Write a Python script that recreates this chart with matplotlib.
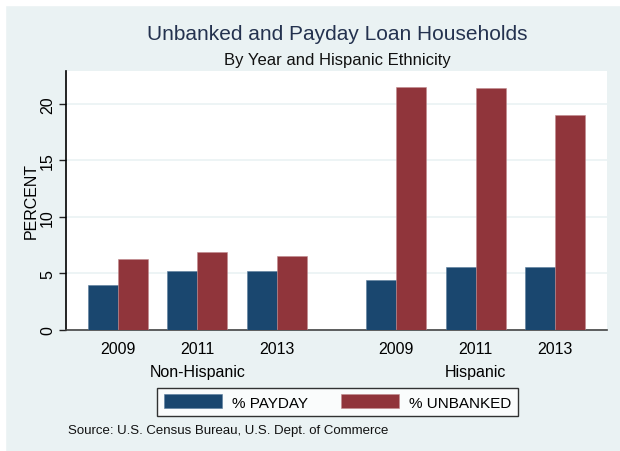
import matplotlib.pyplot as plt
from matplotlib.patches import Patch, Rectangle
from matplotlib.transforms import blended_transform_factory

plt.rcParams['font.family'] = ['Liberation Sans', 'DejaVu Sans']

# data
years = ['2009', '2011', '2013']
groups = ['Non-Hispanic', 'Hispanic']
payday_nonhisp = [4.0, 5.2, 5.2]
unbanked_nonhisp = [6.3, 6.9, 6.5]
payday_hisp = [4.4, 5.55, 5.55]
unbanked_hisp = [21.5, 21.4, 19.0]

bg = '#EAF2F3'
blue = '#1A476F'
red = '#90353B'

fig = plt.figure(figsize=(6.2, 4.52), dpi=100, facecolor=bg)
# white strips at top and left like the original screenshot
fig.patches.append(Rectangle((0, 1 - 6 / 452), 1, 6 / 452, transform=fig.transFigure,
                             color='white', zorder=0))
fig.patches.append(Rectangle((0, 0), 5 / 620, 1, transform=fig.transFigure,
                             color='white', zorder=0))

ax = fig.add_axes([66 / 620, (452 - 331) / 452, (607 - 66) / 620, (331 - 72) / 452])
ax.set_facecolor('white')

centers = [0, 1, 2, 3.5, 4.5, 5.5]
payday = payday_nonhisp + payday_hisp
unbanked = unbanked_nonhisp + unbanked_hisp
w = 30 / 79.5

ax.bar([c - w / 2 for c in centers], payday, width=w, color=blue,
       edgecolor='#5a7d9c', linewidth=0.4, zorder=3)
ax.bar([c + w / 2 for c in centers], unbanked, width=w, color=red,
       edgecolor='#c08a8e', linewidth=0.4, zorder=3)

ax.set_xlim(-0.654, 6.154)
ax.set_ylim(0, 22.9)
ax.set_yticks([0, 5, 10, 15, 20])
ax.set_yticklabels(['0', '5', '10', '15', '20'], rotation=90, va='center', fontsize=11.5)
ax.tick_params(axis='y', length=5, width=1, color='#222222', pad=3)
ax.grid(axis='y', color=bg, linewidth=1.2, zorder=0)

ax.set_xticks(centers)
ax.set_xticklabels(years * 2, fontsize=11.5)
ax.tick_params(axis='x', length=0, pad=8)

for s in ['top', 'right']:
    ax.spines[s].set_visible(False)
ax.spines['left'].set_color('black')
ax.spines['left'].set_linewidth(1.2)
ax.spines['bottom'].set_color('#444444')
ax.spines['bottom'].set_linewidth(1.2)

ax.set_ylabel('PERCENT', fontsize=11.5, labelpad=1)

# group labels under the middle year
trans = blended_transform_factory(ax.transData, fig.transFigure)
ax.text(1, 1 - 373 / 452, groups[0], transform=trans, ha='center', va='center',
        fontsize=11.5)
ax.text(4.5, 1 - 373 / 452, groups[1], transform=trans, ha='center', va='center',
        fontsize=11.5)

fig.text(337 / 620, 1 - 35 / 452, 'Unbanked and Payday Loan Households',
         ha='center', va='center', fontsize=15, color='#24324f')
fig.text(337 / 620, 1 - 60 / 452, 'By Year and Hispanic Ethnicity',
         ha='center', va='center', fontsize=12, color='#111111')

handles = [Patch(facecolor=blue, edgecolor='#5a7d9c', linewidth=0.4),
           Patch(facecolor=red, edgecolor='#c08a8e', linewidth=0.4)]
leg = fig.legend(handles, ['% PAYDAY', '% UNBANKED'], ncol=2, loc='center',
                 bbox_to_anchor=(337.5 / 620, 1 - 403 / 452), fontsize=11,
                 frameon=True, fancybox=False, handlelength=3.8, handleheight=1.0,
                 handletextpad=0.65, columnspacing=2.2, borderpad=0.45,
                 borderaxespad=0)
leg.get_frame().set_edgecolor('black')
leg.get_frame().set_linewidth(1.0)
leg.get_frame().set_facecolor('white')

fig.text(68 / 620, 1 - 431 / 452, 'Source: U.S. Census Bureau, U.S. Dept. of Commerce',
         ha='left', va='center', fontsize=9.5, color='#111111')

fig.savefig('out.png', dpi=100, facecolor=fig.get_facecolor())
